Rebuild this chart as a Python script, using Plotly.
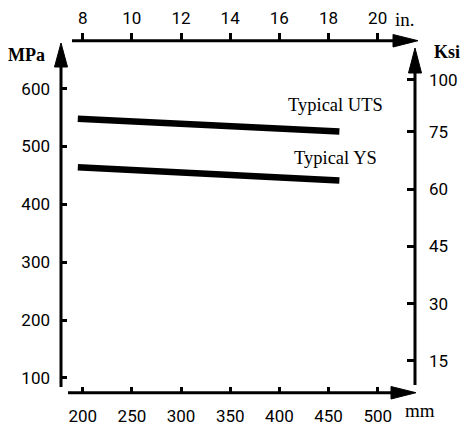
import plotly.graph_objects as go

# ---- data ----
thickness_mm = [195, 461]
uts_mpa = [548, 526]
ys_mpa = [464, 441]
series_names = ["Typical UTS", "Typical YS"]

mm_ticks = [200, 250, 300, 350, 400, 450, 500]
in_ticks = [8, 10, 12, 14, 16, 18, 20]
mpa_ticks = [100, 200, 300, 400, 500, 600]
ksi_labels = ["15", "30", "45", "60", "75", "100"]

# ---- layout geometry ----
W, H = 461, 425
L, R, T, B = 61, 415, 41, 393

def px(x):
    return (x - L) / (R - L)

def py(y):
    return (B - y) / (B - T)

TICK_FONT = dict(family="Roboto", size=17, color="black")
SERIF = "Liberation Serif"

fig = go.Figure()
for name, vals in zip(series_names, [uts_mpa, ys_mpa]):
    fig.add_trace(go.Scatter(x=thickness_mm, y=vals, mode="lines", name=name,
                             line=dict(color="black", width=6.5),
                             xaxis="x", yaxis="y", showlegend=False, hoverinfo="skip"))

# dummy traces so overlay axes render
fig.add_trace(go.Scatter(x=[None], y=[None], xaxis="x2", yaxis="y", showlegend=False))
fig.add_trace(go.Scatter(x=[None], y=[None], xaxis="x", yaxis="y2", showlegend=False))

common = dict(showgrid=False, zeroline=False, showline=False, tickcolor="black",
              tickwidth=3, tickfont=TICK_FONT, fixedrange=True, automargin=False)

fig.update_layout(
    width=W, height=H, autosize=False, showlegend=False,
    margin=dict(l=L, r=W - R, t=T, b=H - B, pad=0, autoexpand=False),
    plot_bgcolor="white", paper_bgcolor="white",
    xaxis=dict(range=[177.9, 537.9], tickvals=mm_ticks, ticks="inside", ticklen=6,
               ticklabelstandoff=11, **common),
    xaxis2=dict(range=[7.117, 21.52], tickvals=in_ticks, ticks="outside", ticklen=7,
                side="top", overlaying="x", anchor="y", ticklabelstandoff=2, **common),
    yaxis=dict(range=[73.8, 682.3], tickvals=mpa_ticks, ticks="inside", ticklen=6,
               ticklabelstandoff=10, **common),
    yaxis2=dict(range=[6.62, 98.77], tickvals=[15, 30, 45, 60, 75, 88.6], ticktext=ksi_labels,
                ticks="inside", ticklen=8, side="right", overlaying="y", anchor="x",
                ticklabelstandoff=13, **common),
)

def seg(x0, y0, x1, y1):
    return dict(type="line", xref="paper", yref="paper", x0=px(x0), y0=py(y0),
                x1=px(x1), y1=py(y1), line=dict(color="black", width=3))

def tri(pts):
    path = "M " + " L ".join(f"{px(a)},{py(b)}" for a, b in pts) + " Z"
    return dict(type="path", xref="paper", yref="paper", path=path,
                fillcolor="black", line=dict(color="black", width=1))

shapes = [
    seg(61, 387, 61, 64), tri([(61, 43), (54.5, 67), (67.5, 67)]),
    seg(415, 385, 415, 70), tri([(415, 48), (408.5, 73), (421.5, 73)]),
    seg(72, 40.7, 395, 40.7), tri([(418, 40.7), (393, 34.5), (393, 47)]),
    seg(68, 392.7, 393, 392.7), tri([(416, 392.7), (391, 386.5), (391, 399)]),
]
fig.update_layout(shapes=shapes)

def label(text, x, y, size=18):
    fig.add_annotation(text=text, x=px(x), y=py(y), xref="paper", yref="paper",
                       showarrow=False, xanchor="center", yanchor="middle",
                       font=dict(family=SERIF, size=size, color="black"))

label("<b>MPa</b>", 26, 55)
label("<b>Ksi</b>", 447, 52)
label("in.", 405, 19, size=19)
label("mm", 420, 411, size=19)
label(series_names[0], 335.5, 105, size=18.5)
label(series_names[1], 335, 158, size=18.5)

fig.write_html("out.html", config={"displayModeBar": False},
               post_script="document.body.style.margin='0';")
